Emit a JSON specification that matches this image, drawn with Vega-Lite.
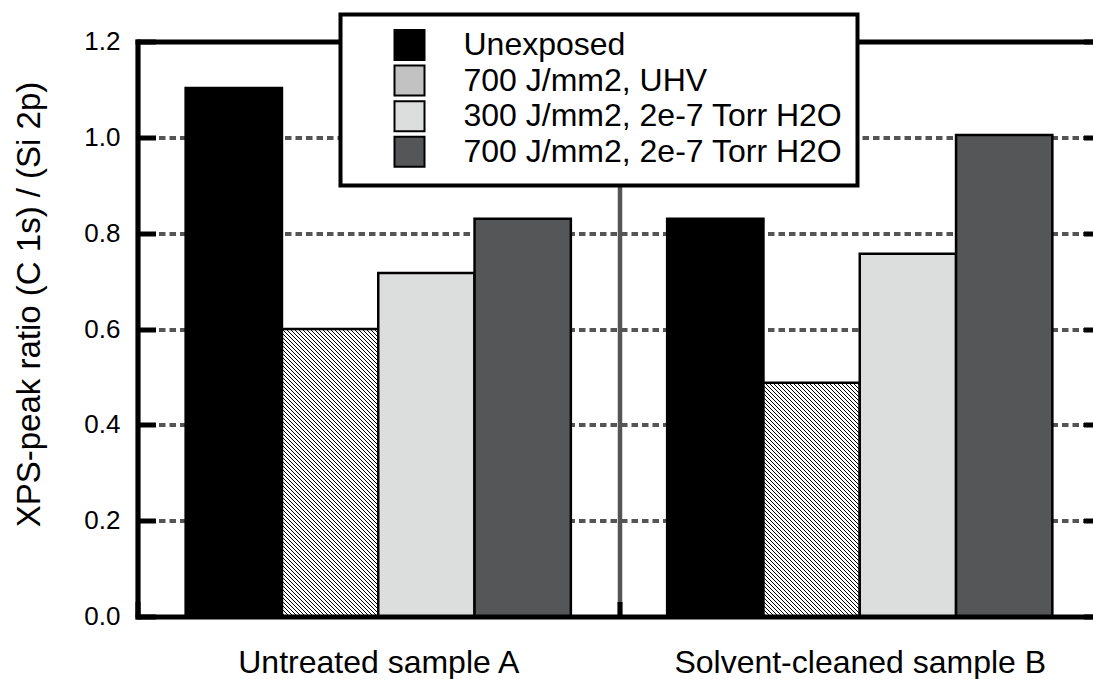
{
"$schema":"https://vega.github.io/schema/vega-lite/v6.json",
"width":955.5,"height":575,
"autosize":{"type":"none"},
"padding":{"left":137.5,"top":41.5,"right":0,"bottom":62.5},
"background":"white",
"config":{"font":"Liberation Sans","view":{"stroke":null},"axis":{"labelFont":"Liberation Sans","titleFont":"Liberation Sans"},"legend":{"strokeWidth":4}},
"data":{"values":[
{"group":"Untreated sample A","series":"Unexposed","value":1.103},
{"group":"Untreated sample A","series":"700 J/mm2, UHV","value":0.6},
{"group":"Untreated sample A","series":"300 J/mm2, 2e-7 Torr H2O","value":0.717},
{"group":"Untreated sample A","series":"700 J/mm2, 2e-7 Torr H2O","value":0.83},
{"group":"Solvent-cleaned sample B","series":"Unexposed","value":0.83},
{"group":"Solvent-cleaned sample B","series":"700 J/mm2, UHV","value":0.488},
{"group":"Solvent-cleaned sample B","series":"300 J/mm2, 2e-7 Torr H2O","value":0.757},
{"group":"Solvent-cleaned sample B","series":"700 J/mm2, 2e-7 Torr H2O","value":1.005}
]},
"resolve":{"axis":{"x":"independent","y":"independent"}},
"layer":[
{
"mark":{"type":"bar","stroke":"black","strokeWidth":2.5},
"encoding":{
"x":{"field":"group","type":"nominal","sort":["Untreated sample A","Solvent-cleaned sample B"],"scale":{"range":[0,963],"paddingInner":0,"paddingOuter":0},
 "axis":{"orient":"bottom","title":null,"labelAngle":0,"labelFontSize":32,"labelLimit":0,"labelColor":"black","labelPadding":46,"tickBand":"extent","tickSize":-15,"tickWidth":5,"tickColor":"black","domainColor":"black","domainWidth":5,"domainCap":"square","grid":true,"gridColor":"#555","gridWidth":4.5,"zindex":1}},
"xOffset":{"field":"series","type":"nominal","sort":["Unexposed","700 J/mm2, UHV","300 J/mm2, 2e-7 Torr H2O","700 J/mm2, 2e-7 Torr H2O"],"scale":{"paddingInner":0,"paddingOuter":0.5}},
"y":{"field":"value","type":"quantitative","scale":{"domain":[0,1.2],"nice":false},
 "axis":{"orient":"left","grid":true,"gridColor":"#555","gridWidth":4,"gridDash":[6.5,4],"domain":false,"ticks":false,"labels":false,"title":null,"values":[0.2,0.4,0.6,0.8,1.0],"zindex":0}},
"color":{"field":"series","type":"nominal",
 "scale":{"domain":["Unexposed","700 J/mm2, UHV","300 J/mm2, 2e-7 Torr H2O","700 J/mm2, 2e-7 Torr H2O"],"range":["#000000","#c2c2c2","#dcdedd","#555658"]},
 "legend":{"title":null,"orient":"none","legendX":203,"legendY":-27,"direction":"vertical","padding":14.5,"fillColor":"white","strokeColor":"black","symbolType":"square","symbolSize":900,"symbolStrokeWidth":2,"symbolOffset":38.5,"labelOffset":38,"labelFontSize":32,"labelFont":"Liberation Sans","labelColor":"black","labelLimit":0,"rowPadding":-2.4,"zindex":3},
 "condition":[
{"test":"datum.series === '700 J/mm2, UHV' && datum.group === 'Untreated sample A'","value":{"gradient":"linear","x1":0,"y1":1,"x2":0.41901,"y2":-0.25095,"stops":[
{"offset":0.0075,"color":"#fff"},{"offset":0.0075,"color":"#000"},{"offset":0.01,"color":"#000"},{"offset":0.01,"color":"#fff"},
{"offset":0.0175,"color":"#fff"},{"offset":0.0175,"color":"#000"},{"offset":0.02,"color":"#000"},{"offset":0.02,"color":"#fff"},
{"offset":0.0275,"color":"#fff"},{"offset":0.0275,"color":"#000"},{"offset":0.03,"color":"#000"},{"offset":0.03,"color":"#fff"},
{"offset":0.0375,"color":"#fff"},{"offset":0.0375,"color":"#000"},{"offset":0.04,"color":"#000"},{"offset":0.04,"color":"#fff"},
{"offset":0.0475,"color":"#fff"},{"offset":0.0475,"color":"#000"},{"offset":0.05,"color":"#000"},{"offset":0.05,"color":"#fff"},
{"offset":0.0575,"color":"#fff"},{"offset":0.0575,"color":"#000"},{"offset":0.06,"color":"#000"},{"offset":0.06,"color":"#fff"},
{"offset":0.0675,"color":"#fff"},{"offset":0.0675,"color":"#000"},{"offset":0.07,"color":"#000"},{"offset":0.07,"color":"#fff"},
{"offset":0.0775,"color":"#fff"},{"offset":0.0775,"color":"#000"},{"offset":0.08,"color":"#000"},{"offset":0.08,"color":"#fff"},
{"offset":0.0875,"color":"#fff"},{"offset":0.0875,"color":"#000"},{"offset":0.09,"color":"#000"},{"offset":0.09,"color":"#fff"},
{"offset":0.0975,"color":"#fff"},{"offset":0.0975,"color":"#000"},{"offset":0.1,"color":"#000"},{"offset":0.1,"color":"#fff"},
{"offset":0.1075,"color":"#fff"},{"offset":0.1075,"color":"#000"},{"offset":0.11,"color":"#000"},{"offset":0.11,"color":"#fff"},
{"offset":0.1175,"color":"#fff"},{"offset":0.1175,"color":"#000"},{"offset":0.12,"color":"#000"},{"offset":0.12,"color":"#fff"},
{"offset":0.1275,"color":"#fff"},{"offset":0.1275,"color":"#000"},{"offset":0.13,"color":"#000"},{"offset":0.13,"color":"#fff"},
{"offset":0.1375,"color":"#fff"},{"offset":0.1375,"color":"#000"},{"offset":0.14,"color":"#000"},{"offset":0.14,"color":"#fff"},
{"offset":0.1475,"color":"#fff"},{"offset":0.1475,"color":"#000"},{"offset":0.15,"color":"#000"},{"offset":0.15,"color":"#fff"},
{"offset":0.1575,"color":"#fff"},{"offset":0.1575,"color":"#000"},{"offset":0.16,"color":"#000"},{"offset":0.16,"color":"#fff"},
{"offset":0.1675,"color":"#fff"},{"offset":0.1675,"color":"#000"},{"offset":0.17,"color":"#000"},{"offset":0.17,"color":"#fff"},
{"offset":0.1775,"color":"#fff"},{"offset":0.1775,"color":"#000"},{"offset":0.18,"color":"#000"},{"offset":0.18,"color":"#fff"},
{"offset":0.1875,"color":"#fff"},{"offset":0.1875,"color":"#000"},{"offset":0.19,"color":"#000"},{"offset":0.19,"color":"#fff"},
{"offset":0.1975,"color":"#fff"},{"offset":0.1975,"color":"#000"},{"offset":0.2,"color":"#000"},{"offset":0.2,"color":"#fff"},
{"offset":0.2075,"color":"#fff"},{"offset":0.2075,"color":"#000"},{"offset":0.21,"color":"#000"},{"offset":0.21,"color":"#fff"},
{"offset":0.2175,"color":"#fff"},{"offset":0.2175,"color":"#000"},{"offset":0.22,"color":"#000"},{"offset":0.22,"color":"#fff"},
{"offset":0.2275,"color":"#fff"},{"offset":0.2275,"color":"#000"},{"offset":0.23,"color":"#000"},{"offset":0.23,"color":"#fff"},
{"offset":0.2375,"color":"#fff"},{"offset":0.2375,"color":"#000"},{"offset":0.24,"color":"#000"},{"offset":0.24,"color":"#fff"},
{"offset":0.2475,"color":"#fff"},{"offset":0.2475,"color":"#000"},{"offset":0.25,"color":"#000"},{"offset":0.25,"color":"#fff"},
{"offset":0.2575,"color":"#fff"},{"offset":0.2575,"color":"#000"},{"offset":0.26,"color":"#000"},{"offset":0.26,"color":"#fff"},
{"offset":0.2675,"color":"#fff"},{"offset":0.2675,"color":"#000"},{"offset":0.27,"color":"#000"},{"offset":0.27,"color":"#fff"},
{"offset":0.2775,"color":"#fff"},{"offset":0.2775,"color":"#000"},{"offset":0.28,"color":"#000"},{"offset":0.28,"color":"#fff"},
{"offset":0.2875,"color":"#fff"},{"offset":0.2875,"color":"#000"},{"offset":0.29,"color":"#000"},{"offset":0.29,"color":"#fff"},
{"offset":0.2975,"color":"#fff"},{"offset":0.2975,"color":"#000"},{"offset":0.3,"color":"#000"},{"offset":0.3,"color":"#fff"},
{"offset":0.3075,"color":"#fff"},{"offset":0.3075,"color":"#000"},{"offset":0.31,"color":"#000"},{"offset":0.31,"color":"#fff"},
{"offset":0.3175,"color":"#fff"},{"offset":0.3175,"color":"#000"},{"offset":0.32,"color":"#000"},{"offset":0.32,"color":"#fff"},
{"offset":0.3275,"color":"#fff"},{"offset":0.3275,"color":"#000"},{"offset":0.33,"color":"#000"},{"offset":0.33,"color":"#fff"},
{"offset":0.3375,"color":"#fff"},{"offset":0.3375,"color":"#000"},{"offset":0.34,"color":"#000"},{"offset":0.34,"color":"#fff"},
{"offset":0.3475,"color":"#fff"},{"offset":0.3475,"color":"#000"},{"offset":0.35,"color":"#000"},{"offset":0.35,"color":"#fff"},
{"offset":0.3575,"color":"#fff"},{"offset":0.3575,"color":"#000"},{"offset":0.36,"color":"#000"},{"offset":0.36,"color":"#fff"},
{"offset":0.3675,"color":"#fff"},{"offset":0.3675,"color":"#000"},{"offset":0.37,"color":"#000"},{"offset":0.37,"color":"#fff"},
{"offset":0.3775,"color":"#fff"},{"offset":0.3775,"color":"#000"},{"offset":0.38,"color":"#000"},{"offset":0.38,"color":"#fff"},
{"offset":0.3875,"color":"#fff"},{"offset":0.3875,"color":"#000"},{"offset":0.39,"color":"#000"},{"offset":0.39,"color":"#fff"},
{"offset":0.3975,"color":"#fff"},{"offset":0.3975,"color":"#000"},{"offset":0.4,"color":"#000"},{"offset":0.4,"color":"#fff"},
{"offset":0.4075,"color":"#fff"},{"offset":0.4075,"color":"#000"},{"offset":0.41,"color":"#000"},{"offset":0.41,"color":"#fff"},
{"offset":0.4175,"color":"#fff"},{"offset":0.4175,"color":"#000"},{"offset":0.42,"color":"#000"},{"offset":0.42,"color":"#fff"},
{"offset":0.4275,"color":"#fff"},{"offset":0.4275,"color":"#000"},{"offset":0.43,"color":"#000"},{"offset":0.43,"color":"#fff"},
{"offset":0.4375,"color":"#fff"},{"offset":0.4375,"color":"#000"},{"offset":0.44,"color":"#000"},{"offset":0.44,"color":"#fff"},
{"offset":0.4475,"color":"#fff"},{"offset":0.4475,"color":"#000"},{"offset":0.45,"color":"#000"},{"offset":0.45,"color":"#fff"},
{"offset":0.4575,"color":"#fff"},{"offset":0.4575,"color":"#000"},{"offset":0.46,"color":"#000"},{"offset":0.46,"color":"#fff"},
{"offset":0.4675,"color":"#fff"},{"offset":0.4675,"color":"#000"},{"offset":0.47,"color":"#000"},{"offset":0.47,"color":"#fff"},
{"offset":0.4775,"color":"#fff"},{"offset":0.4775,"color":"#000"},{"offset":0.48,"color":"#000"},{"offset":0.48,"color":"#fff"},
{"offset":0.4875,"color":"#fff"},{"offset":0.4875,"color":"#000"},{"offset":0.49,"color":"#000"},{"offset":0.49,"color":"#fff"},
{"offset":0.4975,"color":"#fff"},{"offset":0.4975,"color":"#000"},{"offset":0.5,"color":"#000"},{"offset":0.5,"color":"#fff"},
{"offset":0.5075,"color":"#fff"},{"offset":0.5075,"color":"#000"},{"offset":0.51,"color":"#000"},{"offset":0.51,"color":"#fff"},
{"offset":0.5175,"color":"#fff"},{"offset":0.5175,"color":"#000"},{"offset":0.52,"color":"#000"},{"offset":0.52,"color":"#fff"},
{"offset":0.5275,"color":"#fff"},{"offset":0.5275,"color":"#000"},{"offset":0.53,"color":"#000"},{"offset":0.53,"color":"#fff"},
{"offset":0.5375,"color":"#fff"},{"offset":0.5375,"color":"#000"},{"offset":0.54,"color":"#000"},{"offset":0.54,"color":"#fff"},
{"offset":0.5475,"color":"#fff"},{"offset":0.5475,"color":"#000"},{"offset":0.55,"color":"#000"},{"offset":0.55,"color":"#fff"},
{"offset":0.5575,"color":"#fff"},{"offset":0.5575,"color":"#000"},{"offset":0.56,"color":"#000"},{"offset":0.56,"color":"#fff"},
{"offset":0.5675,"color":"#fff"},{"offset":0.5675,"color":"#000"},{"offset":0.57,"color":"#000"},{"offset":0.57,"color":"#fff"},
{"offset":0.5775,"color":"#fff"},{"offset":0.5775,"color":"#000"},{"offset":0.58,"color":"#000"},{"offset":0.58,"color":"#fff"},
{"offset":0.5875,"color":"#fff"},{"offset":0.5875,"color":"#000"},{"offset":0.59,"color":"#000"},{"offset":0.59,"color":"#fff"},
{"offset":0.5975,"color":"#fff"},{"offset":0.5975,"color":"#000"},{"offset":0.6,"color":"#000"},{"offset":0.6,"color":"#fff"},
{"offset":0.6075,"color":"#fff"},{"offset":0.6075,"color":"#000"},{"offset":0.61,"color":"#000"},{"offset":0.61,"color":"#fff"},
{"offset":0.6175,"color":"#fff"},{"offset":0.6175,"color":"#000"},{"offset":0.62,"color":"#000"},{"offset":0.62,"color":"#fff"},
{"offset":0.6275,"color":"#fff"},{"offset":0.6275,"color":"#000"},{"offset":0.63,"color":"#000"},{"offset":0.63,"color":"#fff"},
{"offset":0.6375,"color":"#fff"},{"offset":0.6375,"color":"#000"},{"offset":0.64,"color":"#000"},{"offset":0.64,"color":"#fff"},
{"offset":0.6475,"color":"#fff"},{"offset":0.6475,"color":"#000"},{"offset":0.65,"color":"#000"},{"offset":0.65,"color":"#fff"},
{"offset":0.6575,"color":"#fff"},{"offset":0.6575,"color":"#000"},{"offset":0.66,"color":"#000"},{"offset":0.66,"color":"#fff"},
{"offset":0.6675,"color":"#fff"},{"offset":0.6675,"color":"#000"},{"offset":0.67,"color":"#000"},{"offset":0.67,"color":"#fff"},
{"offset":0.6775,"color":"#fff"},{"offset":0.6775,"color":"#000"},{"offset":0.68,"color":"#000"},{"offset":0.68,"color":"#fff"},
{"offset":0.6875,"color":"#fff"},{"offset":0.6875,"color":"#000"},{"offset":0.69,"color":"#000"},{"offset":0.69,"color":"#fff"},
{"offset":0.6975,"color":"#fff"},{"offset":0.6975,"color":"#000"},{"offset":0.7,"color":"#000"},{"offset":0.7,"color":"#fff"},
{"offset":0.7075,"color":"#fff"},{"offset":0.7075,"color":"#000"},{"offset":0.71,"color":"#000"},{"offset":0.71,"color":"#fff"},
{"offset":0.7175,"color":"#fff"},{"offset":0.7175,"color":"#000"},{"offset":0.72,"color":"#000"},{"offset":0.72,"color":"#fff"},
{"offset":0.7275,"color":"#fff"},{"offset":0.7275,"color":"#000"},{"offset":0.73,"color":"#000"},{"offset":0.73,"color":"#fff"},
{"offset":0.7375,"color":"#fff"},{"offset":0.7375,"color":"#000"},{"offset":0.74,"color":"#000"},{"offset":0.74,"color":"#fff"},
{"offset":0.7475,"color":"#fff"},{"offset":0.7475,"color":"#000"},{"offset":0.75,"color":"#000"},{"offset":0.75,"color":"#fff"},
{"offset":0.7575,"color":"#fff"},{"offset":0.7575,"color":"#000"},{"offset":0.76,"color":"#000"},{"offset":0.76,"color":"#fff"},
{"offset":0.7675,"color":"#fff"},{"offset":0.7675,"color":"#000"},{"offset":0.77,"color":"#000"},{"offset":0.77,"color":"#fff"},
{"offset":0.7775,"color":"#fff"},{"offset":0.7775,"color":"#000"},{"offset":0.78,"color":"#000"},{"offset":0.78,"color":"#fff"},
{"offset":0.7875,"color":"#fff"},{"offset":0.7875,"color":"#000"},{"offset":0.79,"color":"#000"},{"offset":0.79,"color":"#fff"},
{"offset":0.7975,"color":"#fff"},{"offset":0.7975,"color":"#000"},{"offset":0.8,"color":"#000"},{"offset":0.8,"color":"#fff"},
{"offset":0.8075,"color":"#fff"},{"offset":0.8075,"color":"#000"},{"offset":0.81,"color":"#000"},{"offset":0.81,"color":"#fff"},
{"offset":0.8175,"color":"#fff"},{"offset":0.8175,"color":"#000"},{"offset":0.82,"color":"#000"},{"offset":0.82,"color":"#fff"},
{"offset":0.8275,"color":"#fff"},{"offset":0.8275,"color":"#000"},{"offset":0.83,"color":"#000"},{"offset":0.83,"color":"#fff"},
{"offset":0.8375,"color":"#fff"},{"offset":0.8375,"color":"#000"},{"offset":0.84,"color":"#000"},{"offset":0.84,"color":"#fff"},
{"offset":0.8475,"color":"#fff"},{"offset":0.8475,"color":"#000"},{"offset":0.85,"color":"#000"},{"offset":0.85,"color":"#fff"},
{"offset":0.8575,"color":"#fff"},{"offset":0.8575,"color":"#000"},{"offset":0.86,"color":"#000"},{"offset":0.86,"color":"#fff"},
{"offset":0.8675,"color":"#fff"},{"offset":0.8675,"color":"#000"},{"offset":0.87,"color":"#000"},{"offset":0.87,"color":"#fff"},
{"offset":0.8775,"color":"#fff"},{"offset":0.8775,"color":"#000"},{"offset":0.88,"color":"#000"},{"offset":0.88,"color":"#fff"},
{"offset":0.8875,"color":"#fff"},{"offset":0.8875,"color":"#000"},{"offset":0.89,"color":"#000"},{"offset":0.89,"color":"#fff"},
{"offset":0.8975,"color":"#fff"},{"offset":0.8975,"color":"#000"},{"offset":0.9,"color":"#000"},{"offset":0.9,"color":"#fff"},
{"offset":0.9075,"color":"#fff"},{"offset":0.9075,"color":"#000"},{"offset":0.91,"color":"#000"},{"offset":0.91,"color":"#fff"},
{"offset":0.9175,"color":"#fff"},{"offset":0.9175,"color":"#000"},{"offset":0.92,"color":"#000"},{"offset":0.92,"color":"#fff"},
{"offset":0.9275,"color":"#fff"},{"offset":0.9275,"color":"#000"},{"offset":0.93,"color":"#000"},{"offset":0.93,"color":"#fff"},
{"offset":0.9375,"color":"#fff"},{"offset":0.9375,"color":"#000"},{"offset":0.94,"color":"#000"},{"offset":0.94,"color":"#fff"},
{"offset":0.9475,"color":"#fff"},{"offset":0.9475,"color":"#000"},{"offset":0.95,"color":"#000"},{"offset":0.95,"color":"#fff"},
{"offset":0.9575,"color":"#fff"},{"offset":0.9575,"color":"#000"},{"offset":0.96,"color":"#000"},{"offset":0.96,"color":"#fff"},
{"offset":0.9675,"color":"#fff"},{"offset":0.9675,"color":"#000"},{"offset":0.97,"color":"#000"},{"offset":0.97,"color":"#fff"},
{"offset":0.9775,"color":"#fff"},{"offset":0.9775,"color":"#000"},{"offset":0.98,"color":"#000"},{"offset":0.98,"color":"#fff"}
]}},
{"test":"datum.series === '700 J/mm2, UHV' && datum.group === 'Solvent-cleaned sample B'","value":{"gradient":"linear","x1":0,"y1":1,"x2":0.60235,"y2":-0.46258,"stops":[
{"offset":0.0075,"color":"#fff"},{"offset":0.0075,"color":"#000"},{"offset":0.01,"color":"#000"},{"offset":0.01,"color":"#fff"},
{"offset":0.0175,"color":"#fff"},{"offset":0.0175,"color":"#000"},{"offset":0.02,"color":"#000"},{"offset":0.02,"color":"#fff"},
{"offset":0.0275,"color":"#fff"},{"offset":0.0275,"color":"#000"},{"offset":0.03,"color":"#000"},{"offset":0.03,"color":"#fff"},
{"offset":0.0375,"color":"#fff"},{"offset":0.0375,"color":"#000"},{"offset":0.04,"color":"#000"},{"offset":0.04,"color":"#fff"},
{"offset":0.0475,"color":"#fff"},{"offset":0.0475,"color":"#000"},{"offset":0.05,"color":"#000"},{"offset":0.05,"color":"#fff"},
{"offset":0.0575,"color":"#fff"},{"offset":0.0575,"color":"#000"},{"offset":0.06,"color":"#000"},{"offset":0.06,"color":"#fff"},
{"offset":0.0675,"color":"#fff"},{"offset":0.0675,"color":"#000"},{"offset":0.07,"color":"#000"},{"offset":0.07,"color":"#fff"},
{"offset":0.0775,"color":"#fff"},{"offset":0.0775,"color":"#000"},{"offset":0.08,"color":"#000"},{"offset":0.08,"color":"#fff"},
{"offset":0.0875,"color":"#fff"},{"offset":0.0875,"color":"#000"},{"offset":0.09,"color":"#000"},{"offset":0.09,"color":"#fff"},
{"offset":0.0975,"color":"#fff"},{"offset":0.0975,"color":"#000"},{"offset":0.1,"color":"#000"},{"offset":0.1,"color":"#fff"},
{"offset":0.1075,"color":"#fff"},{"offset":0.1075,"color":"#000"},{"offset":0.11,"color":"#000"},{"offset":0.11,"color":"#fff"},
{"offset":0.1175,"color":"#fff"},{"offset":0.1175,"color":"#000"},{"offset":0.12,"color":"#000"},{"offset":0.12,"color":"#fff"},
{"offset":0.1275,"color":"#fff"},{"offset":0.1275,"color":"#000"},{"offset":0.13,"color":"#000"},{"offset":0.13,"color":"#fff"},
{"offset":0.1375,"color":"#fff"},{"offset":0.1375,"color":"#000"},{"offset":0.14,"color":"#000"},{"offset":0.14,"color":"#fff"},
{"offset":0.1475,"color":"#fff"},{"offset":0.1475,"color":"#000"},{"offset":0.15,"color":"#000"},{"offset":0.15,"color":"#fff"},
{"offset":0.1575,"color":"#fff"},{"offset":0.1575,"color":"#000"},{"offset":0.16,"color":"#000"},{"offset":0.16,"color":"#fff"},
{"offset":0.1675,"color":"#fff"},{"offset":0.1675,"color":"#000"},{"offset":0.17,"color":"#000"},{"offset":0.17,"color":"#fff"},
{"offset":0.1775,"color":"#fff"},{"offset":0.1775,"color":"#000"},{"offset":0.18,"color":"#000"},{"offset":0.18,"color":"#fff"},
{"offset":0.1875,"color":"#fff"},{"offset":0.1875,"color":"#000"},{"offset":0.19,"color":"#000"},{"offset":0.19,"color":"#fff"},
{"offset":0.1975,"color":"#fff"},{"offset":0.1975,"color":"#000"},{"offset":0.2,"color":"#000"},{"offset":0.2,"color":"#fff"},
{"offset":0.2075,"color":"#fff"},{"offset":0.2075,"color":"#000"},{"offset":0.21,"color":"#000"},{"offset":0.21,"color":"#fff"},
{"offset":0.2175,"color":"#fff"},{"offset":0.2175,"color":"#000"},{"offset":0.22,"color":"#000"},{"offset":0.22,"color":"#fff"},
{"offset":0.2275,"color":"#fff"},{"offset":0.2275,"color":"#000"},{"offset":0.23,"color":"#000"},{"offset":0.23,"color":"#fff"},
{"offset":0.2375,"color":"#fff"},{"offset":0.2375,"color":"#000"},{"offset":0.24,"color":"#000"},{"offset":0.24,"color":"#fff"},
{"offset":0.2475,"color":"#fff"},{"offset":0.2475,"color":"#000"},{"offset":0.25,"color":"#000"},{"offset":0.25,"color":"#fff"},
{"offset":0.2575,"color":"#fff"},{"offset":0.2575,"color":"#000"},{"offset":0.26,"color":"#000"},{"offset":0.26,"color":"#fff"},
{"offset":0.2675,"color":"#fff"},{"offset":0.2675,"color":"#000"},{"offset":0.27,"color":"#000"},{"offset":0.27,"color":"#fff"},
{"offset":0.2775,"color":"#fff"},{"offset":0.2775,"color":"#000"},{"offset":0.28,"color":"#000"},{"offset":0.28,"color":"#fff"},
{"offset":0.2875,"color":"#fff"},{"offset":0.2875,"color":"#000"},{"offset":0.29,"color":"#000"},{"offset":0.29,"color":"#fff"},
{"offset":0.2975,"color":"#fff"},{"offset":0.2975,"color":"#000"},{"offset":0.3,"color":"#000"},{"offset":0.3,"color":"#fff"},
{"offset":0.3075,"color":"#fff"},{"offset":0.3075,"color":"#000"},{"offset":0.31,"color":"#000"},{"offset":0.31,"color":"#fff"},
{"offset":0.3175,"color":"#fff"},{"offset":0.3175,"color":"#000"},{"offset":0.32,"color":"#000"},{"offset":0.32,"color":"#fff"},
{"offset":0.3275,"color":"#fff"},{"offset":0.3275,"color":"#000"},{"offset":0.33,"color":"#000"},{"offset":0.33,"color":"#fff"},
{"offset":0.3375,"color":"#fff"},{"offset":0.3375,"color":"#000"},{"offset":0.34,"color":"#000"},{"offset":0.34,"color":"#fff"},
{"offset":0.3475,"color":"#fff"},{"offset":0.3475,"color":"#000"},{"offset":0.35,"color":"#000"},{"offset":0.35,"color":"#fff"},
{"offset":0.3575,"color":"#fff"},{"offset":0.3575,"color":"#000"},{"offset":0.36,"color":"#000"},{"offset":0.36,"color":"#fff"},
{"offset":0.3675,"color":"#fff"},{"offset":0.3675,"color":"#000"},{"offset":0.37,"color":"#000"},{"offset":0.37,"color":"#fff"},
{"offset":0.3775,"color":"#fff"},{"offset":0.3775,"color":"#000"},{"offset":0.38,"color":"#000"},{"offset":0.38,"color":"#fff"},
{"offset":0.3875,"color":"#fff"},{"offset":0.3875,"color":"#000"},{"offset":0.39,"color":"#000"},{"offset":0.39,"color":"#fff"},
{"offset":0.3975,"color":"#fff"},{"offset":0.3975,"color":"#000"},{"offset":0.4,"color":"#000"},{"offset":0.4,"color":"#fff"},
{"offset":0.4075,"color":"#fff"},{"offset":0.4075,"color":"#000"},{"offset":0.41,"color":"#000"},{"offset":0.41,"color":"#fff"},
{"offset":0.4175,"color":"#fff"},{"offset":0.4175,"color":"#000"},{"offset":0.42,"color":"#000"},{"offset":0.42,"color":"#fff"},
{"offset":0.4275,"color":"#fff"},{"offset":0.4275,"color":"#000"},{"offset":0.43,"color":"#000"},{"offset":0.43,"color":"#fff"},
{"offset":0.4375,"color":"#fff"},{"offset":0.4375,"color":"#000"},{"offset":0.44,"color":"#000"},{"offset":0.44,"color":"#fff"},
{"offset":0.4475,"color":"#fff"},{"offset":0.4475,"color":"#000"},{"offset":0.45,"color":"#000"},{"offset":0.45,"color":"#fff"},
{"offset":0.4575,"color":"#fff"},{"offset":0.4575,"color":"#000"},{"offset":0.46,"color":"#000"},{"offset":0.46,"color":"#fff"},
{"offset":0.4675,"color":"#fff"},{"offset":0.4675,"color":"#000"},{"offset":0.47,"color":"#000"},{"offset":0.47,"color":"#fff"},
{"offset":0.4775,"color":"#fff"},{"offset":0.4775,"color":"#000"},{"offset":0.48,"color":"#000"},{"offset":0.48,"color":"#fff"},
{"offset":0.4875,"color":"#fff"},{"offset":0.4875,"color":"#000"},{"offset":0.49,"color":"#000"},{"offset":0.49,"color":"#fff"},
{"offset":0.4975,"color":"#fff"},{"offset":0.4975,"color":"#000"},{"offset":0.5,"color":"#000"},{"offset":0.5,"color":"#fff"},
{"offset":0.5075,"color":"#fff"},{"offset":0.5075,"color":"#000"},{"offset":0.51,"color":"#000"},{"offset":0.51,"color":"#fff"},
{"offset":0.5175,"color":"#fff"},{"offset":0.5175,"color":"#000"},{"offset":0.52,"color":"#000"},{"offset":0.52,"color":"#fff"},
{"offset":0.5275,"color":"#fff"},{"offset":0.5275,"color":"#000"},{"offset":0.53,"color":"#000"},{"offset":0.53,"color":"#fff"},
{"offset":0.5375,"color":"#fff"},{"offset":0.5375,"color":"#000"},{"offset":0.54,"color":"#000"},{"offset":0.54,"color":"#fff"},
{"offset":0.5475,"color":"#fff"},{"offset":0.5475,"color":"#000"},{"offset":0.55,"color":"#000"},{"offset":0.55,"color":"#fff"},
{"offset":0.5575,"color":"#fff"},{"offset":0.5575,"color":"#000"},{"offset":0.56,"color":"#000"},{"offset":0.56,"color":"#fff"},
{"offset":0.5675,"color":"#fff"},{"offset":0.5675,"color":"#000"},{"offset":0.57,"color":"#000"},{"offset":0.57,"color":"#fff"},
{"offset":0.5775,"color":"#fff"},{"offset":0.5775,"color":"#000"},{"offset":0.58,"color":"#000"},{"offset":0.58,"color":"#fff"},
{"offset":0.5875,"color":"#fff"},{"offset":0.5875,"color":"#000"},{"offset":0.59,"color":"#000"},{"offset":0.59,"color":"#fff"},
{"offset":0.5975,"color":"#fff"},{"offset":0.5975,"color":"#000"},{"offset":0.6,"color":"#000"},{"offset":0.6,"color":"#fff"},
{"offset":0.6075,"color":"#fff"},{"offset":0.6075,"color":"#000"},{"offset":0.61,"color":"#000"},{"offset":0.61,"color":"#fff"},
{"offset":0.6175,"color":"#fff"},{"offset":0.6175,"color":"#000"},{"offset":0.62,"color":"#000"},{"offset":0.62,"color":"#fff"},
{"offset":0.6275,"color":"#fff"},{"offset":0.6275,"color":"#000"},{"offset":0.63,"color":"#000"},{"offset":0.63,"color":"#fff"},
{"offset":0.6375,"color":"#fff"},{"offset":0.6375,"color":"#000"},{"offset":0.64,"color":"#000"},{"offset":0.64,"color":"#fff"},
{"offset":0.6475,"color":"#fff"},{"offset":0.6475,"color":"#000"},{"offset":0.65,"color":"#000"},{"offset":0.65,"color":"#fff"},
{"offset":0.6575,"color":"#fff"},{"offset":0.6575,"color":"#000"},{"offset":0.66,"color":"#000"},{"offset":0.66,"color":"#fff"},
{"offset":0.6675,"color":"#fff"},{"offset":0.6675,"color":"#000"},{"offset":0.67,"color":"#000"},{"offset":0.67,"color":"#fff"},
{"offset":0.6775,"color":"#fff"},{"offset":0.6775,"color":"#000"},{"offset":0.68,"color":"#000"},{"offset":0.68,"color":"#fff"},
{"offset":0.6875,"color":"#fff"},{"offset":0.6875,"color":"#000"},{"offset":0.69,"color":"#000"},{"offset":0.69,"color":"#fff"},
{"offset":0.6975,"color":"#fff"},{"offset":0.6975,"color":"#000"},{"offset":0.7,"color":"#000"},{"offset":0.7,"color":"#fff"},
{"offset":0.7075,"color":"#fff"},{"offset":0.7075,"color":"#000"},{"offset":0.71,"color":"#000"},{"offset":0.71,"color":"#fff"},
{"offset":0.7175,"color":"#fff"},{"offset":0.7175,"color":"#000"},{"offset":0.72,"color":"#000"},{"offset":0.72,"color":"#fff"},
{"offset":0.7275,"color":"#fff"},{"offset":0.7275,"color":"#000"},{"offset":0.73,"color":"#000"},{"offset":0.73,"color":"#fff"},
{"offset":0.7375,"color":"#fff"},{"offset":0.7375,"color":"#000"},{"offset":0.74,"color":"#000"},{"offset":0.74,"color":"#fff"},
{"offset":0.7475,"color":"#fff"},{"offset":0.7475,"color":"#000"},{"offset":0.75,"color":"#000"},{"offset":0.75,"color":"#fff"},
{"offset":0.7575,"color":"#fff"},{"offset":0.7575,"color":"#000"},{"offset":0.76,"color":"#000"},{"offset":0.76,"color":"#fff"},
{"offset":0.7675,"color":"#fff"},{"offset":0.7675,"color":"#000"},{"offset":0.77,"color":"#000"},{"offset":0.77,"color":"#fff"},
{"offset":0.7775,"color":"#fff"},{"offset":0.7775,"color":"#000"},{"offset":0.78,"color":"#000"},{"offset":0.78,"color":"#fff"},
{"offset":0.7875,"color":"#fff"},{"offset":0.7875,"color":"#000"},{"offset":0.79,"color":"#000"},{"offset":0.79,"color":"#fff"},
{"offset":0.7975,"color":"#fff"},{"offset":0.7975,"color":"#000"},{"offset":0.8,"color":"#000"},{"offset":0.8,"color":"#fff"},
{"offset":0.8075,"color":"#fff"},{"offset":0.8075,"color":"#000"},{"offset":0.81,"color":"#000"},{"offset":0.81,"color":"#fff"},
{"offset":0.8175,"color":"#fff"},{"offset":0.8175,"color":"#000"},{"offset":0.82,"color":"#000"},{"offset":0.82,"color":"#fff"},
{"offset":0.8275,"color":"#fff"},{"offset":0.8275,"color":"#000"},{"offset":0.83,"color":"#000"},{"offset":0.83,"color":"#fff"},
{"offset":0.8375,"color":"#fff"},{"offset":0.8375,"color":"#000"},{"offset":0.84,"color":"#000"},{"offset":0.84,"color":"#fff"},
{"offset":0.8475,"color":"#fff"},{"offset":0.8475,"color":"#000"},{"offset":0.85,"color":"#000"},{"offset":0.85,"color":"#fff"}
]}}
 ]}
}
},
{
"mark":{"type":"bar","opacity":0},
"encoding":{
"x":{"field":"group","type":"nominal","sort":["Untreated sample A","Solvent-cleaned sample B"],"axis":{"orient":"top","labels":false,"ticks":false,"grid":false,"title":null,"domainColor":"black","domainWidth":5,"domainCap":"square","zindex":1}},
"xOffset":{"field":"series","type":"nominal","sort":["Unexposed","700 J/mm2, UHV","300 J/mm2, 2e-7 Torr H2O","700 J/mm2, 2e-7 Torr H2O"]},
"y":{"field":"value","type":"quantitative","axis":{"orient":"left","grid":false,"domainColor":"black","domainWidth":5,"domainCap":"square","tickColor":"black","tickWidth":5,"tickSize":-18,"values":[0,0.2,0.4,0.6,0.8,1.0,1.2],"format":".1f","labelFontSize":26,"labelColor":"black","labelPadding":35.5,"title":"XPS-peak ratio (C 1s) / (Si 2p)","titleFontSize":33,"titleFontWeight":"normal","titleColor":"black","titleX":-108,"titleY":262.5,"titleAlign":"center","titleBaseline":"middle","zindex":2}}
}
},
{
"mark":{"type":"bar","opacity":0},
"encoding":{
"x":{"field":"group","type":"nominal","sort":["Untreated sample A","Solvent-cleaned sample B"],"axis":null},
"xOffset":{"field":"series","type":"nominal","sort":["Unexposed","700 J/mm2, UHV","300 J/mm2, 2e-7 Torr H2O","700 J/mm2, 2e-7 Torr H2O"]},
"y":{"field":"value","type":"quantitative","axis":{"orient":"right","offset":7.5,"grid":false,"labels":false,"title":null,"domainColor":"black","domainWidth":5,"tickColor":"black","tickWidth":5,"tickSize":-17,"values":[0,0.2,0.4,0.6,0.8,1.0,1.2],"zindex":1}}
}
}
]
}
